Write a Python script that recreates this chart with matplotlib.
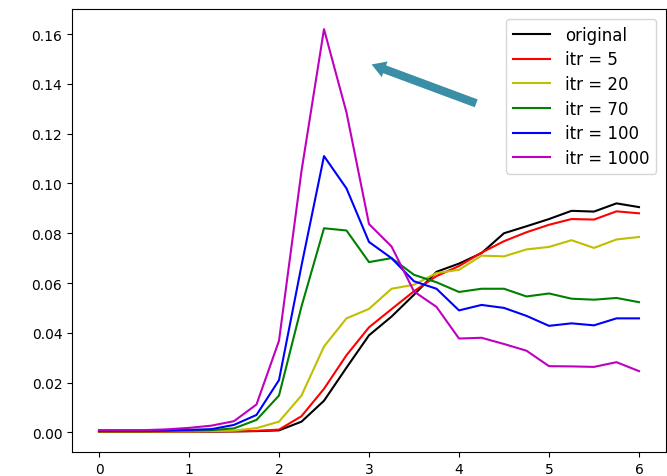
import matplotlib
matplotlib.use('Agg')
from matplotlib import pyplot as plt

x = [0.0, 0.25, 0.5, 0.75, 1.0, 1.25, 1.5, 1.75, 2.0, 2.25, 2.5, 2.75, 3.0,
     3.25, 3.5, 3.75, 4.0, 4.25, 4.5, 4.75, 5.0, 5.25, 5.5, 5.75, 6.0]

original = [0.0002, 0.0002, 0.0002, 0.0003, 0.0003, 0.0003, 0.0004, 0.0005, 0.0008, 0.0043, 0.0127,
            0.026, 0.039, 0.0465, 0.0553, 0.0645, 0.0678, 0.072, 0.080, 0.0828, 0.0857, 0.089,
            0.0887, 0.092, 0.0905]
itr5 = [0.0003, 0.0003, 0.0003, 0.0003, 0.0003, 0.0004, 0.0004, 0.0006, 0.0011, 0.0065, 0.0175,
        0.031, 0.0422, 0.0495, 0.0567, 0.0628, 0.0668, 0.0722, 0.0768, 0.0804, 0.0834, 0.0857,
        0.0855, 0.0888, 0.088]
itr20 = [0.0004, 0.0004, 0.0004, 0.0004, 0.0004, 0.0005, 0.0007, 0.0017, 0.0043, 0.0148, 0.0345,
         0.0458, 0.0496, 0.0577, 0.0593, 0.064, 0.0653, 0.071, 0.0707, 0.0735, 0.0745, 0.0772,
         0.0741, 0.0775, 0.0785]
itr70 = [0.0005, 0.0005, 0.0005, 0.0006, 0.0007, 0.0009, 0.0016, 0.005, 0.0148, 0.0506, 0.082,
         0.0811, 0.0684, 0.070, 0.0633, 0.0603, 0.0564, 0.0577, 0.0577, 0.0546, 0.0558, 0.0537,
         0.0533, 0.054, 0.0523]
itr100 = [0.0007, 0.0007, 0.0007, 0.0008, 0.001, 0.0013, 0.003, 0.007, 0.021, 0.067, 0.111,
          0.098, 0.0765, 0.070, 0.0607, 0.0577, 0.049, 0.0512, 0.050, 0.0468, 0.0428, 0.0438,
          0.043, 0.0458, 0.0458]
itr1000 = [0.0009, 0.0009, 0.0009, 0.0012, 0.0018, 0.0027, 0.0045, 0.0112, 0.0368, 0.105, 0.162,
           0.1285, 0.0837, 0.0747, 0.0566, 0.0504, 0.0377, 0.038, 0.0355, 0.0328, 0.0266, 0.0265,
           0.0263, 0.0282, 0.0246]

series = [
    (original, 'k', 'original'),
    (itr5, 'r', 'itr = 5'),
    (itr20, 'y', 'itr = 20'),
    (itr70, 'g', 'itr = 70'),
    (itr100, 'b', 'itr = 100'),
    (itr1000, 'm', 'itr = 1000'),
]

fig = plt.figure(figsize=(6.67, 4.77), dpi=100)
ax = fig.add_axes([72 / 667, 24 / 477, 594 / 667, 443 / 477])

for values, color, label in series:
    ax.plot(x, values, color=color, label=label)

# arrow pointing at the peak
ax.annotate('', xy=(3.0, 0.1482), xytext=(4.22, 0.1318),
            arrowprops=dict(arrowstyle='simple,head_length=0.5,head_width=0.6,tail_width=0.3',
                            mutation_scale=20, color='#3a8fa6', lw=0))

ax.legend(loc='upper right', fontsize=12, borderaxespad=0.6, labelspacing=0.4,
          handlelength=2.2, handletextpad=0.9)

plt.savefig('out.png', dpi=100)
